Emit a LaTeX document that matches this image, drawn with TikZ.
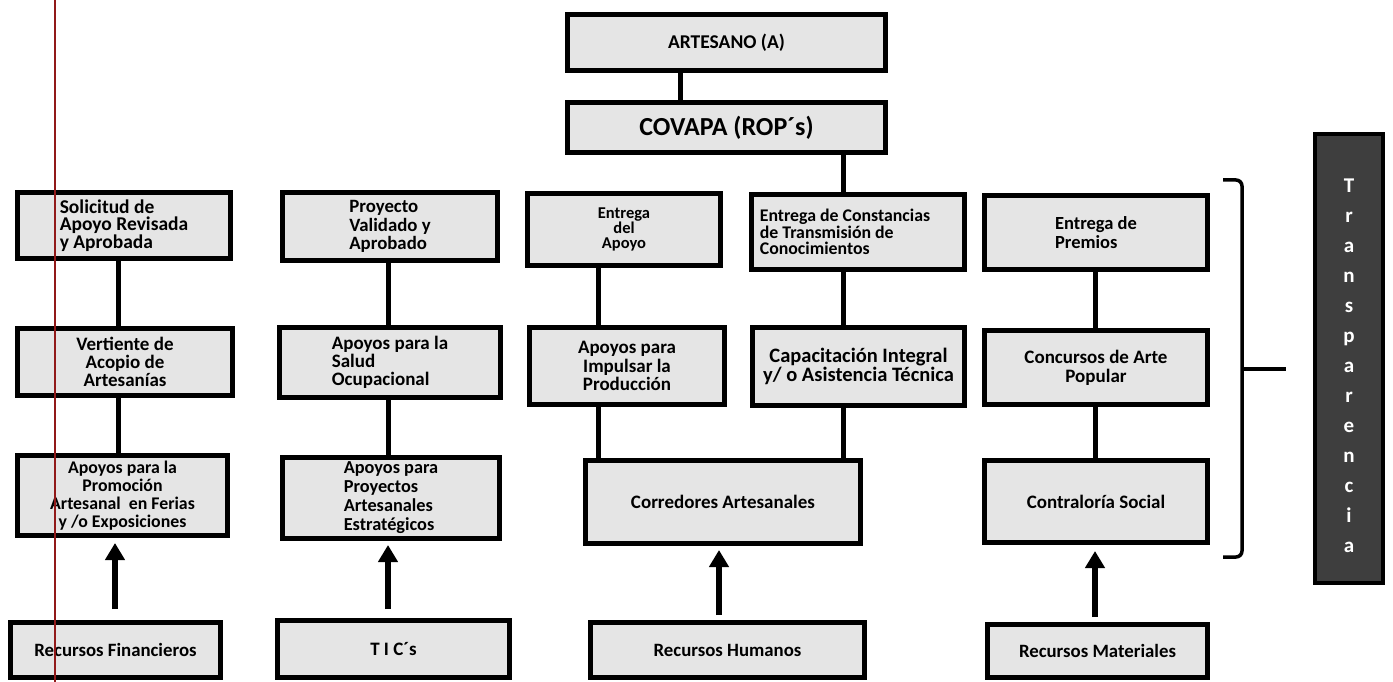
\documentclass[tikz,border=0pt]{standalone}
\usepackage{fontspec}
\setmainfont{Carlito}
\usetikzlibrary{arrows.meta}
\definecolor{boxfill}{RGB}{229,229,229}
\definecolor{tfill}{RGB}{62,62,62}
\definecolor{scanred}{RGB}{145,25,25}

% box given by its outer edges: [options]{name}{x1}{y1}{x2}{y2}{text}
\newcommand{\mkbox}[7][]{%
  \node[box,minimum width={#5-#3-5},minimum height={#6-#4-5},#1]
    (#2) at ({(#3+#5)/2},{(#4+#6)/2}) {#7};}
\newcommand{\fs}[2]{\fontsize{#1}{#2}\selectfont\bfseries}

\begin{document}
\begin{tikzpicture}[x=1pt,y=-1pt,
  box/.style={draw=black,line width=5pt,fill=boxfill,inner sep=0pt,
    align=center,font=\fs{18.5}{18.5}},
  lbox/.style={box,align=left},
  conn/.style={line width=5pt},
  uparrow/.style={line width=6pt,-{Triangle[width=19pt,length=17pt]}},
  brace/.style={line width=3.5pt,rounded corners=6pt},
]
\useasboundingbox (0,0) rectangle (1393,682);
\fill[white] (0,0) rectangle (1393,682);

% column positions of the connectors
\coordinate (c1) at (118,0);
\coordinate (c2) at (388,0);
\coordinate (c3) at (598,0);
\coordinate (c4) at (843,0);
\coordinate (c5) at (1095,0);
\coordinate (ctop) at (680,0);
\coordinate (a1) at (115,0);
\coordinate (a2) at (388,0);
\coordinate (a3) at (719,0);
\coordinate (a4) at (1095,0);

% top of the hierarchy
\mkbox[font=\fs{19.5}{20}]{art}{565}{12}{888}{73}{ARTESANO (A)}
\mkbox[font=\fs{26}{26}]{cov}{565}{100}{888}{155}{COVAPA (ROP´s)}

% first row
\mkbox[lbox,font=\fs{19.5}{17.5}]{b11}{15}{190}{233}{261}{Solicitud de\\Apoyo Revisada\\y Aprobada}
\mkbox[lbox,font=\fs{18.8}{18.5}]{b21}{280}{190}{500}{263}{Proyecto\\Validado y\\Aprobado}
\mkbox[font=\fs{16.5}{15}]{b31}{525}{191}{723}{268}{Entrega\\del\\Apoyo}
\mkbox[lbox,font=\fs{17.8}{16.5}]{b41}{749}{192}{967}{272}{Entrega de Constancias\hspace*{26pt}\\de Transmisión de\\Conocimientos}
\mkbox[lbox,font=\fs{18.5}{19}]{b51}{982}{193}{1210}{272}{Entrega de\\Premios}

% second row
\mkbox[font=\fs{19}{18}]{b12}{15}{326}{235}{398}{Vertiente de\\Acopio de\\Artesanías}
\mkbox[lbox,font=\fs{19}{18}]{b22}{277}{325}{503}{400}{Apoyos para la\\Salud\\Ocupacional}
\mkbox[font=\fs{19}{18.5}]{b32}{527}{325}{727}{407}{Apoyos para\\Impulsar la\\Producción}
\mkbox[font=\fs{20.5}{19}]{b42}{750}{325}{967}{408}{Capacitación Integral\\y/ o Asistencia Técnica}
\mkbox[font=\fs{19}{19}]{b52}{982}{328}{1210}{407}{Concursos de Arte\\Popular}

% third row
\mkbox[font=\fs{17.8}{18}]{b13}{15}{453}{230}{538}{Apoyos para la\\Promoción\\Artesanal\ \ en Ferias\\y /o Exposiciones}
\mkbox[lbox,font=\fs{18.3}{19}]{b23}{280}{455}{502}{541}{Apoyos para\\Proyectos\\Artesanales\\Estratégicos}
\mkbox[font=\fs{19}{19}]{b34}{583}{458}{863}{546}{Corredores Artesanales}
\mkbox[font=\fs{19}{19}]{b53}{982}{458}{1210}{545}{Contraloría Social}

% resources
\mkbox[font=\fs{18.8}{19}]{r1}{8}{620}{223}{680}{Recursos Financieros}
\mkbox[font=\fs{19}{19}]{r2}{275}{618}{512}{680}{T I C´s}
\mkbox[font=\fs{18.8}{19}]{r3}{588}{620}{867}{680}{Recursos Humanos}
\mkbox[font=\fs{18.8}{19}]{r4}{985}{622}{1210}{680}{Recursos Materiales}

% connectors
\draw[conn] (art.south -| ctop) -- (cov.north -| ctop);
\draw[conn] (cov.south -| c4) -- (b41.north -| c4);
\draw[conn] (b11.south -| c1) -- (b12.north -| c1);
\draw[conn] (b12.south -| c1) -- (b13.north -| c1);
\draw[conn] (b21.south -| c2) -- (b22.north -| c2);
\draw[conn] (b22.south -| c2) -- (b23.north -| c2);
\draw[conn] (b31.south -| c3) -- (b32.north -| c3);
\draw[conn] (b32.south -| c3) -- (b34.north -| c3);
\draw[conn] (b41.south -| c4) -- (b42.north -| c4);
\draw[conn] (b42.south -| c4) -- (b34.north -| c4);
\draw[conn] (b51.south -| c5) -- (b52.north -| c5);
\draw[conn] (b52.south -| c5) -- (b53.north -| c5);

% resources feeding the programmes
\draw[uparrow,shorten <=11pt,shorten >=5pt] (r1.north -| a1) -- (b13.south -| a1);
\draw[uparrow,shorten <=9pt,shorten >=4pt] (r2.north -| a2) -- (b23.south -| a2);
\draw[uparrow,shorten <=5pt,shorten >=4pt] (r3.north -| a3) -- (b34.south -| a3);
\draw[uparrow,shorten <=5pt,shorten >=6pt] (r4.north -| a4) -- (b53.south -| a4);

% bracket grouping the programmes
\coordinate (brtop) at (1223,180);
\coordinate (brbot) at (1223,557);
\coordinate (brmid) at (1242,369);
\coordinate (brtip) at (1286,369);
\draw[brace] (brtop) -| (1242,557) -- (brbot);
\draw[line width=3.5pt] (brmid) -- (brtip);

% transparency column
\node[draw=black,line width=4pt,fill=tfill,minimum width=68,minimum height=449,inner sep=0pt]
  (tbox) at (1349,358.5) {};
\node[text=white,align=center,font=\fs{21}{30}] (ttext) at (1349,366)
  {T\\r\\a\\n\\s\\p\\a\\r\\e\\n\\c\\i\\a};

% margin rule
\draw[scanred,line width=2pt] (55,0) -- (55,682);
\end{tikzpicture}
\end{document}
